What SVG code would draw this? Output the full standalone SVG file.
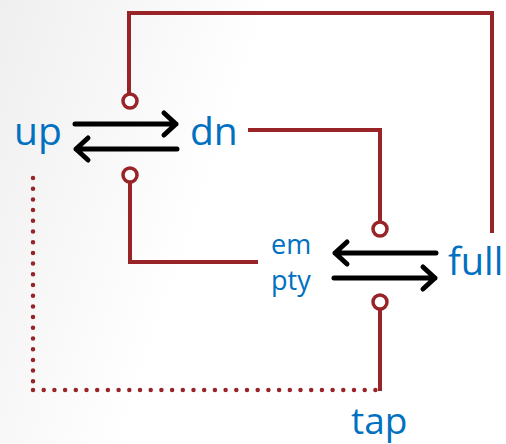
<svg xmlns="http://www.w3.org/2000/svg" width="506" height="444" viewBox="0 0 506 444">
<defs>
<linearGradient id="bg" x1="0" y1="0" x2="1" y2="0.3">
<stop offset="0" stop-color="#efefef"/>
<stop offset="0.5" stop-color="#ffffff"/>
<stop offset="1" stop-color="#ffffff"/>
</linearGradient>
<style>
.w{fill:none;stroke:#992428;stroke-width:4;stroke-linejoin:miter;stroke-linecap:butt}
.dot{fill:none;stroke:#992428;stroke-width:4.5;stroke-linecap:round;stroke-dasharray:0 10.7}
.c{fill:#fff;stroke:#992428;stroke-width:3.5}
.a{fill:none;stroke:#000;stroke-width:5;stroke-linecap:round;stroke-linejoin:round}
.t{font-family:"Open Sans","Noto Sans",sans-serif;fill:#0070c0}
</style>
</defs>
<rect width="506" height="444" fill="url(#bg)"/>
<g id="connectors">
<path class="w" d="M129,94 V13 H492 V233"/>
<path class="w" d="M248,130 H380 V222"/>
<path class="w" d="M130,183 V262 H258"/>
<path class="w" d="M380,309 V391"/>
<path class="dot" d="M33,178 V390 M33,390 H377"/>
<path class="c" d="M130,101 m-7,0 a7,7 0 1,0 14,0 a7,7 0 1,0 -14,0"/>
<path class="c" d="M130,175 m-7,0 a7,7 0 1,0 14,0 a7,7 0 1,0 -14,0"/>
<path class="c" d="M380,229 m-7,0 a7,7 0 1,0 14,0 a7,7 0 1,0 -14,0"/>
<path class="c" d="M380,302 m-7,0 a7,7 0 1,0 14,0 a7,7 0 1,0 -14,0"/>
<path class="a" d="M75,124 H176 M164,113 L176,124 L164,135"/>
<path class="a" d="M177,149 H76 M88,138 L76,149 L88,160"/>
<path class="a" d="M436,253 H335 M347,242 L335,253 L347,264"/>
<path class="a" d="M334,278 H435 M423,267 L435,278 L423,289"/>
</g>
<g id="up"><text class="t" x="14" y="145" font-size="39">up</text></g>
<g id="dn"><text class="t" x="190" y="145" font-size="39">dn</text></g>
<g id="empty"><text class="t" x="271" y="254" font-size="27">em</text><text class="t" x="271" y="290" font-size="27">pty</text></g>
<g id="full"><text class="t" x="448" y="275" font-size="38">full</text></g>
<g id="tap"><text class="t" x="351" y="434" font-size="37">tap</text></g>
</svg>
